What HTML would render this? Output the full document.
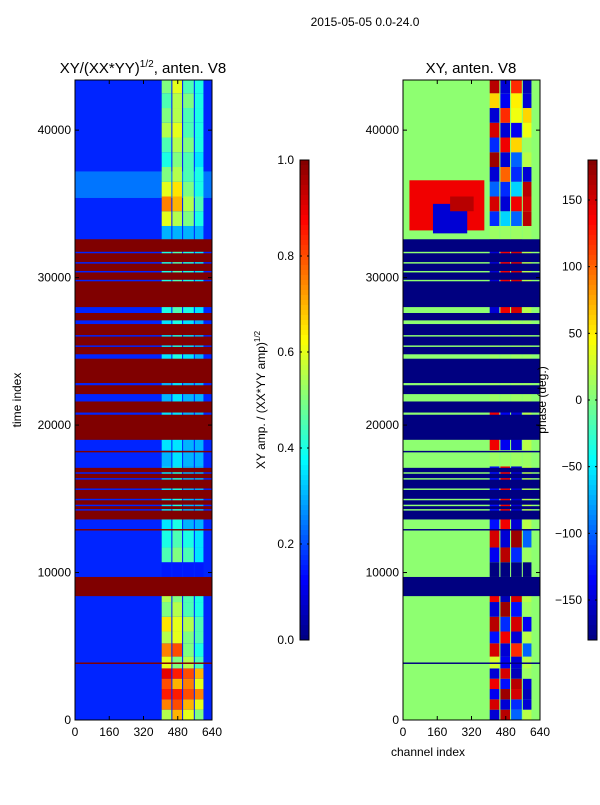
<!DOCTYPE html>
<html><head><meta charset="utf-8">
<style>
body{margin:0;background:#fff;}
svg text{font-family:"Liberation Sans",sans-serif;fill:#000;}
</style></head>
<body>
<svg id="fig" width="600" height="800" viewBox="0 0 600 800" xmlns="http://www.w3.org/2000/svg">
<text x="365" y="26" font-size="12" text-anchor="middle">2015-05-05 0.0-24.0</text>
<text x="143" y="73" font-size="15" text-anchor="middle">XY/(XX*YY)<tspan font-size="10" dy="-6">1/2</tspan><tspan dy="6">, anten. V8</tspan></text>
<text x="471" y="73" font-size="15" text-anchor="middle">XY, anten. V8</text>
<text transform="translate(21,400) rotate(-90)" font-size="12" text-anchor="middle">time index</text>
<text x="428" y="756" font-size="12" text-anchor="middle">channel index</text>
<text transform="translate(265,400) rotate(-90)" font-size="12" text-anchor="middle">XY amp. / (XX*YY amp)<tspan font-size="8" dy="-5">1/2</tspan></text>
<g id="left"></g>
<g id="right"></g>
<g id="cb"></g>
<text transform="translate(546,400) rotate(-90)" font-size="12" text-anchor="middle">phase (deg.)</text>
</svg>
<script>
const NS="http://www.w3.org/2000/svg";
// ---- data ----
const xTicks=[0,160,320,480,640];
const yTicks=[0,10000,20000,30000,40000];
const ampTicks=[0.0,0.2,0.4,0.6,0.8,1.0];
const phaseTicks=[-150,-100,-50,0,50,100,150];
const flagBands=[[3800,3900],[8400,9700],[12850,12950],[13600,14200],[14300,14500],[14600,14900],[15000,15600],[15700,16300],[16400,16700],[16800,17100],[18150,18250],[19000,20700],[20850,21600],[22100,22700],[22850,24500],[24800,25300],[25400,26000],[26100,26850],[27100,27600],[28000,29750],[29850,30350],[30450,30950],[31050,31650],[31750,32600]];
const stripChans=[[405,450],[455,500],[505,555],[560,600]];
const segTimes=[0,700,1400,2100,2800,3500,4300,5200,6000,7000,8000,9700,10700,11700,12900,17200,18300,21000,23000,25500,27600,32600,33500,34500,35500,36500,37500,38500,39500,40500,41500,42500,43400];
const ampStrip=[
[0.55,0.7,0.6,0.5],[0.75,0.8,0.7,0.6],[0.85,0.85,0.8,0.75],[0.8,0.7,0.75,0.6],[0.9,0.85,0.8,0.7],[0.6,0.5,0.55,0.45],[0.75,0.8,0.5,0.4],[0.55,0.6,0.5,0.45],[0.65,0.6,0.55,0.45],[0.5,0.55,0.45,0.4],[0.55,0.5,0.45,0.4],[0.15,0.15,0.15,0.15],
[0.45,0.5,0.45,0.35],[0.4,0.45,0.4,0.35],[0.35,0.4,0.3,0.3],[0.3,0.35,0.3,0.3],[0.35,0.35,0.3,0.3],[0.3,0.35,0.3,0.3],[0.35,0.4,0.35,0.3],[0.35,0.4,0.35,0.3],[0.4,0.45,0.4,0.35],[0.3,0.3,0.3,0.3],
[0.6,0.55,0.5,0.4],[0.75,0.7,0.55,0.45],[0.6,0.65,0.5,0.4],[0.5,0.55,0.45,0.4],[0.4,0.5,0.45,0.35],[0.45,0.55,0.5,0.4],[0.55,0.6,0.45,0.4],[0.5,0.55,0.45,0.4],[0.45,0.55,0.5,0.4],[0.5,0.6,0.45,0.4]];
const phaseStrip=[
[-150,160,-100,20],[150,-150,-120,-150],[-140,170,150,-160],[140,-130,160,-150],[-150,150,-160,10],[30,-140,-150,20],[150,-150,120,-100],[-130,140,-150,20],[160,-120,150,-140],[-150,170,-130,10],[140,-160,150,20],[-180,-180,-180,-180],
[-140,160,-120,10],[150,-150,170,-100],[-130,140,-150,20],[10,10,10,10],[140,-140,-150,20],[10,10,10,10],[10,10,10,10],[10,10,10,10],[-150,140,150,20],[10,10,10,10],
[-120,-60,-100,160],[150,-150,140,150],[-100,-120,-60,160],[-150,100,-120,-150],[170,-150,-100,20],[-120,140,60,10],[150,-150,-140,40],[-150,120,40,60],[60,-140,50,-150],[160,-150,120,-160]];
const ampLight=[[35400,37200]];
const phaseBlob=[[33200,36600,30,380,140],[33000,35000,140,300,-150],[34500,35500,220,330,160]];
// ---- helpers ----
function jet(v){v=Math.max(0,Math.min(1,v));
 const f=(x)=>Math.max(0,Math.min(1,x));
 const r=f(Math.min(4*v-1.5,-4*v+4.5)),g=f(Math.min(4*v-0.5,-4*v+3.5)),b=f(Math.min(4*v+0.5,-4*v+2.5));
 return `rgb(${Math.round(r*255)},${Math.round(g*255)},${Math.round(b*255)})`;}
const Y=t=>720-t*640/43400;
function rect(par,x,y,w,h,fill,name){const r=document.createElementNS(NS,'rect');
 r.setAttribute('x',x);r.setAttribute('y',y);r.setAttribute('width',w);r.setAttribute('height',h);r.setAttribute('fill',fill);
 
 
 par.appendChild(r);return r;}
function txt(par,x,y,s,anchor,name){const t=document.createElementNS(NS,'text');
 t.setAttribute('x',x);t.setAttribute('y',y);t.setAttribute('font-size','12');t.setAttribute('text-anchor',anchor);t.textContent=s;
 
 
 par.appendChild(t);}
function line(par,x1,y1,x2,y2,name){const l=document.createElementNS(NS,'line');
 l.setAttribute('x1',x1);l.setAttribute('y1',y1);l.setAttribute('x2',x2);l.setAttribute('y2',y2);l.setAttribute('stroke','#000');l.setAttribute('stroke-width','1');
 
 
 par.appendChild(l);}
function panel(g,x0,bgVal,stripArr,flagColor,cmap,extra){
 const X=c=>x0+c*137/640;
 rect(g,x0,80,137,640,cmap(bgVal),'heatmap-background');
 extra(X);
 for(let i=0;i<segTimes.length-1;i++){
  const vals=stripArr[i]||stripArr[stripArr.length-1];
  for(let s=0;s<stripChans.length;s++){
   rect(g,X(stripChans[s][0]),Y(segTimes[i+1]),X(stripChans[s][1])-X(stripChans[s][0]),Y(segTimes[i])-Y(segTimes[i+1]),cmap(vals[s]),'heatmap-cell');
  }}
 for(const b of flagBands){rect(g,x0,Y(b[1]),137,Y(b[0])-Y(b[1]),flagColor,'flagged-band');}
 const fr=rect(g,x0,80,137,640,'none','plot-frame');fr.setAttribute('stroke','#000');
 for(const t of xTicks){line(g,X(t),720,X(t),716,'x-tick');line(g,X(t),80,X(t),84,'x-tick');txt(g,X(t),736,String(t),'middle','x-tick-label');}
 for(const t of yTicks){line(g,x0,Y(t),x0+4,Y(t),'y-tick');line(g,x0+137,Y(t),x0+133,Y(t),'y-tick');txt(g,x0-4,Y(t)+4,String(t),'end','y-tick-label');}
}
const amp=v=>jet(v), ph=p=>jet((p+180)/360);
panel(document.getElementById('left'),75,0.16,ampStrip,'#800000',amp,X=>{
 for(const b of ampLight)rect(document.getElementById('left'),75,Y(b[1]),137,Y(b[0])-Y(b[1]),jet(0.24),'light-region');});
panel(document.getElementById('right'),403,5,phaseStrip,'#000080',ph,X=>{
 for(const b of phaseBlob)rect(document.getElementById('right'),X(b[2]),Y(b[1]),X(b[3])-X(b[2]),Y(b[0])-Y(b[1]),ph(b[4]),'phase-blob');});
// colorbars
const cb=document.getElementById('cb');
function colorbar(x,vmin,vmax,ticks,fmt,name){
 for(let i=0;i<96;i++){rect(cb,x,160+i*5,9,5.3,jet(1-(i+0.5)/96),name+'-segment');}
 const fr=rect(cb,x,160,9,480,'none',name+'-frame');fr.setAttribute('stroke','#000');
 for(const t of ticks){const y=640-(t-vmin)/(vmax-vmin)*480;
  line(cb,x,y,x+2,y,name+'-tick');line(cb,x+9,y,x+7,y,name+'-tick');
  txt(cb,x-6,y+4,fmt(t),'end',name+'-tick-label');}
}
colorbar(300,0,1,ampTicks,t=>t.toFixed(1),'amp-colorbar');
colorbar(588,-180,180,phaseTicks,t=>t<0?'\u2212'+(-t):String(t),'phase-colorbar');
</script>
</body></html>
